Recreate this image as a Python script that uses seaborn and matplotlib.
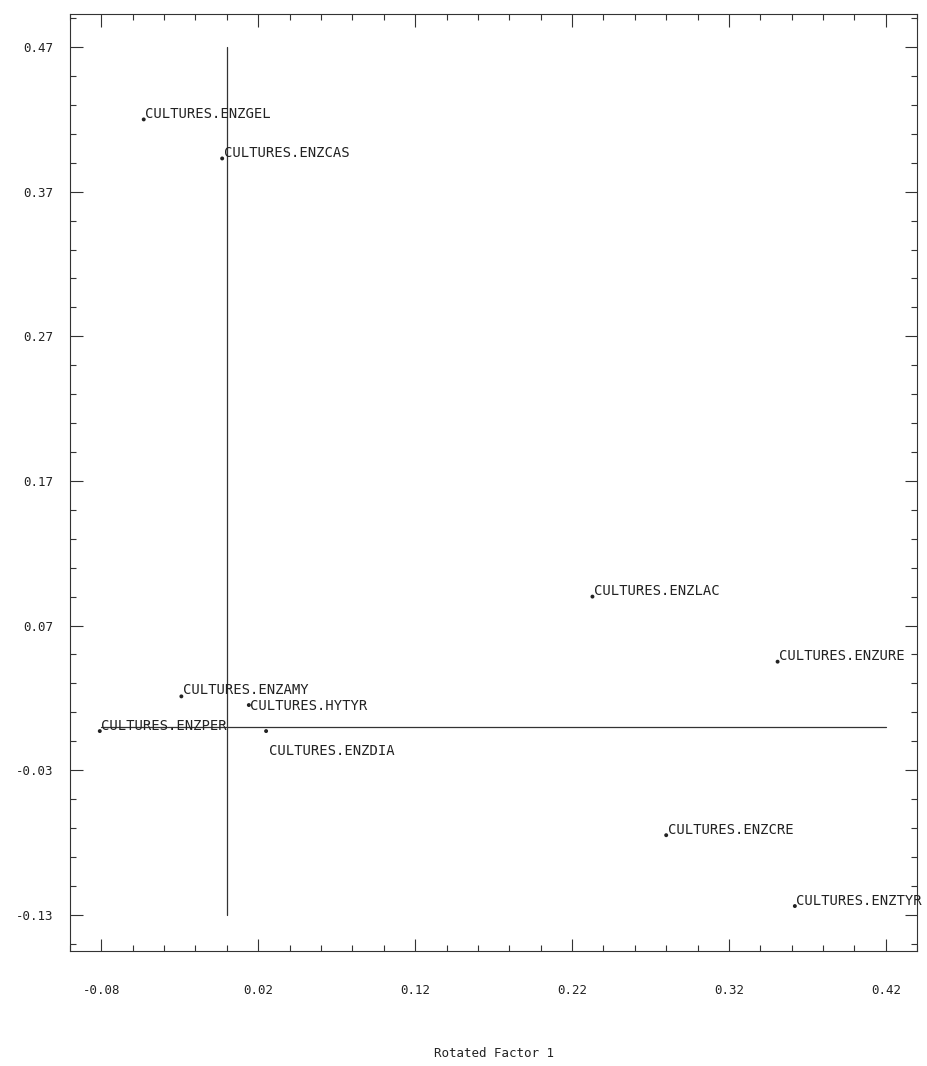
import matplotlib
matplotlib.use('Agg')
import matplotlib.pyplot as plt
from matplotlib.ticker import FixedLocator
import seaborn as sns
import pandas as pd

# factor loadings
labels = ['CULTURES.ENZGEL', 'CULTURES.ENZCAS', 'CULTURES.ENZLAC', 'CULTURES.ENZURE',
          'CULTURES.ENZAMY', 'CULTURES.HYTYR', 'CULTURES.ENZPER', 'CULTURES.ENZDIA',
          'CULTURES.ENZCRE', 'CULTURES.ENZTYR']
factor1 = [-0.053, -0.003, 0.233, 0.351, -0.029, 0.014, -0.081, 0.025, 0.280, 0.362]
factor2 = [0.420, 0.393, 0.090, 0.045, 0.021, 0.015, -0.003, -0.003, -0.075, -0.124]

xticks = [-0.08, 0.02, 0.12, 0.22, 0.32, 0.42]
yticks = [-0.13, -0.03, 0.07, 0.17, 0.27, 0.37, 0.47]

df = pd.DataFrame({'label': labels, 'f1': factor1, 'f2': factor2})

sns.set_style('ticks')
plt.rcParams['font.family'] = ['DejaVu Sans Mono']

fig = plt.figure(figsize=(9.28, 10.66), dpi=100)
ax = fig.add_axes([0.0754, 0.108, 0.913, 0.879])

sns.scatterplot(data=df, x='f1', y='f2', ax=ax, color='#222222', s=8,
                edgecolor='none', legend=False, zorder=3)

# reference axes through zero
ax.plot([0, 0], [yticks[0], yticks[-1]], color='#333333', lw=0.9)
ax.plot([xticks[0], xticks[-1]], [0, 0], color='#333333', lw=0.9)

for _, r in df.iterrows():
    name = r['label']
    if name.endswith('ENZDIA'):
        off, va = (2, -14), 'center'
    elif name.endswith('HYTYR'):
        off, va = (1, -1), 'center'
    elif name.endswith('ENZAMY'):
        off, va = (1, 2), 'baseline'
    else:
        off, va = (1, 1), 'baseline'
    ax.annotate(name, (r['f1'], r['f2']), xytext=off, textcoords='offset points',
                va=va, ha='left', fontsize=10, color='#222222')

ax.set_xlim(-0.10, 0.44)
ax.set_ylim(-0.155, 0.493)
ax.xaxis.set_major_locator(FixedLocator(xticks))
ax.yaxis.set_major_locator(FixedLocator(yticks))
ax.set_xticklabels([f'{v:.2f}' for v in xticks])
ax.set_yticklabels([f'{v:.2f}' for v in yticks])
ax.xaxis.set_minor_locator(FixedLocator([round(-0.10 + 0.02 * i, 2) for i in range(28)]))
ax.yaxis.set_minor_locator(FixedLocator([round(-0.15 + 0.02 * i, 2) for i in range(33)]))

ax.tick_params(which='both', direction='in', top=True, right=True,
               color='#333333', width=0.8)
ax.tick_params(which='major', length=9, labelsize=9, labelcolor='#222222')
ax.tick_params(axis='x', which='major', pad=24)
ax.tick_params(axis='y', which='major', pad=12)
ax.tick_params(which='minor', length=4.5)
for s in ax.spines.values():
    s.set_color('#333333')
    s.set_linewidth(0.8)

ax.set_xlabel('Rotated Factor 1', fontsize=9, color='#222222', labelpad=36)
ax.set_ylabel('')

fig.savefig('out.png', dpi=100)
